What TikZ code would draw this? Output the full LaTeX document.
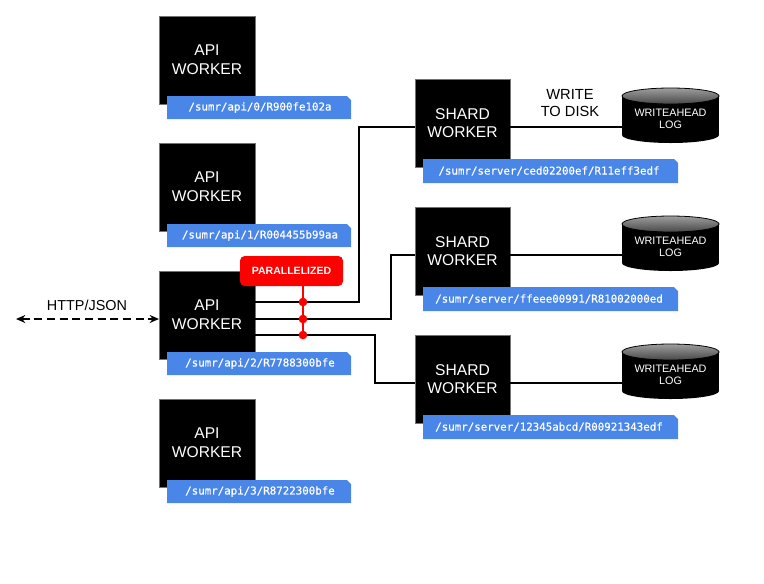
\documentclass[tikz,border=0pt]{standalone}
\usepackage{fontspec}
\setmainfont{Liberation Sans}
\newfontfamily\monof[FakeBold=0.6]{DejaVu Sans Mono}
\usetikzlibrary{arrows.meta}
\definecolor{tagblue}{HTML}{4A86E8}
\definecolor{parred}{HTML}{FF0000}
\tikzset{
  worker/.style={fill=black, draw=black!55, line width=0.4pt, text=white, align=center,
    inner sep=0pt, minimum width=72pt, minimum height=66pt,
    font=\fontsize{11.7}{14}\selectfont},
  tagshape/.style={fill=tagblue},
  tagtext/.style={text=white, inner sep=0pt, font=\monof\fontsize{8.1}{10}\selectfont},
  conn/.style={line width=1.5pt, black},
  redwire/.style={line width=1.5pt, parred},
  reddot/.style={circle, fill=parred, inner sep=0pt, minimum size=6.5pt},
  caption/.style={align=center, inner sep=0pt, font=\fontsize{11}{12.75}\selectfont},
  waltext/.style={text=white, align=center, inner sep=0pt, font=\fontsize{8.1}{8.6}\selectfont},
}
\begin{document}
\begin{tikzpicture}[x=0.75pt, y=-0.75pt]
\useasboundingbox (0,0) rectangle (764,583);

% API workers
\foreach \i/\t in {0/16,1/143,2/271,3/399}{
  \node[worker] (api\i) at (207,\t+44) {API\\WORKER};
}
% Shard workers
\foreach \i/\t in {0/79,1/207,2/335}{
  \node[worker, minimum width=71.25pt] (shard\i) at (462.5,\t+44) {SHARD\\WORKER};
}

% Cylinders (writeahead logs)
\foreach \i/\t in {0/88,1/216,2/344}{
  \fill[black] (622,\t+8) rectangle (719,\t+47);
  \fill[black] (670.5,\t+47) ellipse [x radius=36.4pt, y radius=6pt];
  \shade[top color=black!38, bottom color=black!72, draw=black, line width=0.6pt]
    (670.5,\t+8) ellipse [x radius=36.4pt, y radius=6pt];
  \node[waltext] (wal\i) at (670.5,\t+31) {WRITEAHEAD\\LOG};
  \coordinate (walin\i) at (622,\t+39);
  \coordinate (shout\i) at (510,\t+39);
}

% API tags
\foreach \i/\t/\s in {0/96/{/sumr/api/0/R900fe102a},1/224/{/sumr/api/1/R004455b99aa},2/352/{/sumr/api/2/R7788300bfe},3/480/{/sumr/api/3/R8722300bfe}}{
  \fill[tagshape] (167,\t) -- (347,\t) -- (351,\t+4) -- (351,\t+23) -- (167,\t+23) -- cycle;
  \node[tagtext] (apitag\i) at (260,\t+11.5) {\s};
}
% Shard tags
\foreach \i/\t/\s in {0/159/{/sumr/server/ced02200ef/R11eff3edf},1/287/{/sumr/server/ffeee00991/R81002000ed},2/415/{/sumr/server/12345abcd/R00921343edf}}{
  \fill[tagshape] (423,\t) -- (674,\t) -- (678,\t+4) -- (678,\t+24) -- (423,\t+24) -- cycle;
  \node[tagtext] (shardtag\i) at (549,\t+12) {\s};
}

% shard to log
\foreach \i in {0,1,2}{
  \draw[line width=1.3pt] (shout\i) -- (walin\i);
}

% WRITE TO DISK
\node[caption] (wtd) at (570,103) {WRITE\\TO DISK};

% HTTP/JSON
\node[caption, font=\fontsize{10.8}{12}\selectfont] (http) at (87,305.5) {HTTP/JSON};
\coordinate (client) at (16,319);
\coordinate (apiin) at (159,319);
\draw[line width=1.3pt, dash pattern=on 6pt off 3.5pt, {Stealth[length=7pt,width=6pt]}-{Stealth[length=7pt,width=6pt]}] (client) -- (apiin);

% connections from api2
\coordinate (o1) at (255,302);
\coordinate (o2) at (255,319);
\coordinate (o3) at (255,335);
\coordinate (sin0) at (415,127);
\coordinate (sin1) at (415,255);
\coordinate (sin2) at (415,383);
\draw[conn] (o1) -- (359,302) |- (sin0);
\draw[conn] (o2) -- (391,319) |- (sin1);
\draw[conn] (o3) -- (375,335) |- (sin2);

% parallelized
\node[fill=parred, rounded corners=3.5pt, minimum width=77.25pt, minimum height=22.5pt, inner sep=0pt,
  text=white, font=\bfseries\fontsize{7.9}{9}\selectfont] (par) at (291.5,271) {PARALLELIZED};
\coordinate (pb) at (303,286);
\node[reddot] (d1) at (303,302) {};
\node[reddot] (d2) at (303,319) {};
\node[reddot] (d3) at (303,335) {};
\draw[redwire] (pb) -- (d1.center) -- (d2.center) -- (d3.center);
\end{tikzpicture}
\end{document}
